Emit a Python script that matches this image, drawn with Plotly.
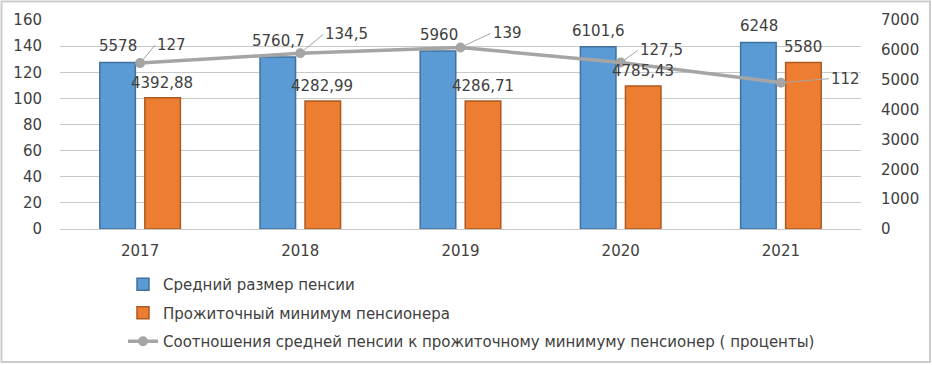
import plotly.graph_objects as go

years = ["2017", "2018", "2019", "2020", "2021"]
avg_pension = [5578, 5760.7, 5960, 6101.6, 6248]
subsistence_min = [4392.88, 4282.99, 4286.71, 4785.43, 5580]
ratio = [127, 134.5, 139, 127.5, 112]

name_avg = "Средний размер пенсии"
name_min = "Прожиточный минимум пенсионера"
name_ratio = "Соотношения средней пенсии к прожиточному минимуму пенсионер ( проценты)"

def fmt(v):
    return f"{v:g}".replace(".", ",")

FONT = "DejaVu Sans"
TXT = "#404040"
W, H = 932, 365
ML, MR, MT, MB = 60, 71, 20, 136
PW, PH = W - ML - MR, H - MT - MB

fig = go.Figure()
fig.add_trace(go.Bar(
    x=years, y=avg_pension, name=name_avg, yaxis="y", legendgroup="a",
    marker=dict(color="#5B9BD5", line=dict(color="#41719C", width=1.5)),
))
fig.add_trace(go.Bar(
    x=years, y=subsistence_min, name=name_min, yaxis="y", legendgroup="b",
    marker=dict(color="#ED7D31", line=dict(color="#AE5A21", width=1.5)),
))
fig.add_trace(go.Scatter(
    x=years, y=ratio, name=name_ratio, yaxis="y2", legendgroup="c",
    mode="lines+markers",
    line=dict(color="#A5A5A5", width=3.5),
    marker=dict(color="#A5A5A5", size=10),
))

ann = []
for i, v in enumerate(avg_pension):
    ann.append(dict(x=i, y=v, yref="y", text=fmt(v), showarrow=False,
                    xshift=-22, yshift=5, yanchor="bottom",
                    font=dict(family=FONT, size=15, color=TXT)))
for i, v in enumerate(subsistence_min):
    ann.append(dict(x=i, y=v, yref="y", text=fmt(v), showarrow=False,
                    xshift=22, yshift=4, yanchor="bottom",
                    font=dict(family=FONT, size=15, color=TXT)))
offsets = [(15, -18), (23, -19), (30, -14), (17, -12), (48, -4)]
for i, (v, (ax, ay)) in enumerate(zip(ratio, offsets)):
    ann.append(dict(x=i, y=v, yref="y2", text=fmt(v), showarrow=True,
                    arrowhead=0, arrowwidth=1, arrowcolor="#A5A5A5",
                    ax=ax, ay=ay, xanchor="left", yanchor="middle",
                    font=dict(family=FONT, size=15, color=TXT)))

def px2x(p):
    return (p - ML) / PW

def px2y(p):
    return (H - MB - p) / PH

fig.update_layout(
    width=W, height=H,
    margin=dict(l=ML, r=MR, t=MT, b=MB, pad=0, autoexpand=False),
    paper_bgcolor="white", plot_bgcolor="white",
    font=dict(family=FONT, size=15, color=TXT),
    barmode="group", bargap=0.438, bargroupgap=0.21,
    xaxis=dict(type="category", range=[-0.5, 4.5], showgrid=False, showline=True,
               linecolor="#C8C8C8", linewidth=1, automargin=False,
               ticks="", ticklabelstandoff=8, tickfont=dict(size=15, color=TXT)),
    yaxis=dict(range=[0, 7000], dtick=1000, side="right", showgrid=False,
               zeroline=False, ticklabelstandoff=19, automargin=False,
               tickfont=dict(size=15, color=TXT)),
    yaxis2=dict(range=[0, 160], dtick=20, side="left", overlaying="y",
                showgrid=True, gridcolor="#C8C8C8", gridwidth=1, zeroline=False,
                ticklabelstandoff=17, automargin=False,
                tickfont=dict(size=15, color=TXT)),
    legend=dict(orientation="v", x=px2x(123), xanchor="left",
                y=px2y(268), yanchor="top", tracegroupgap=6,
                font=dict(family=FONT, size=15, color=TXT),
                bgcolor="rgba(0,0,0,0)"),
    showlegend=True,
    annotations=ann,
    shapes=[dict(type="rect", xref="paper", yref="paper",
                 x0=px2x(1.5), x1=px2x(930), y0=px2y(362), y1=px2y(1.5),
                 line=dict(color="#CCCCCC", width=2), layer="below")],
)

fig.write_html("out.html", config={"displayModeBar": False},
               post_script="document.body.style.margin='0';")
